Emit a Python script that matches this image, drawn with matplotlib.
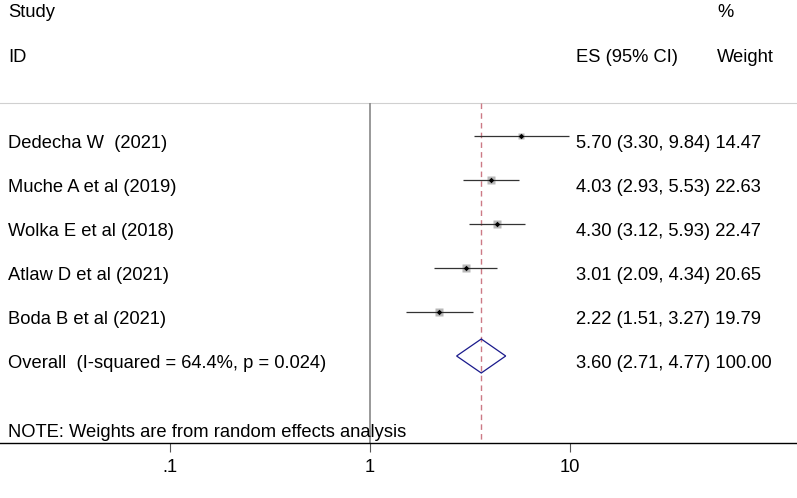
import numpy as np
import matplotlib
matplotlib.use("Agg")
import matplotlib.pyplot as plt
from matplotlib.patches import Polygon
from matplotlib.transforms import blended_transform_factory

plt.rcParams['font.family'] = ['Liberation Sans', 'DejaVu Sans']
plt.rcParams['font.size'] = 13.2

# study data
studies = ["Dedecha W  (2021)", "Muche A et al (2019)", "Wolka E et al (2018)",
           "Atlaw D et al (2021)", "Boda B et al (2021)"]
es = [5.70, 4.03, 4.30, 3.01, 2.22]
lo = [3.30, 2.93, 3.12, 2.09, 1.51]
hi = [9.84, 5.53, 5.93, 4.34, 3.27]
weights = [14.47, 22.63, 22.47, 20.65, 19.79]

overall_label = "Overall  (I-squared = 64.4%, p = 0.024)"
overall_es, overall_lo, overall_hi = 3.60, 2.71, 4.77
overall_weight = 100.00

tick_vals = [0.1, 1, 10]
tick_labels = [".1", "1", "10"]

W, H = 797, 498
fig = plt.figure(figsize=(W / 100, H / 100), dpi=100)
axis_y = 443
ax = fig.add_axes([0, (H - axis_y) / H, 1, axis_y / H])
ax.set_xscale("log")
# 1 sits at x=370 px, 200 px per decade
ax.set_xlim(10 ** (-370 / 200), 10 ** ((W - 370) / 200))
ax.set_ylim(axis_y, 0)  # y in pixels from top

for s in ["top", "right", "left"]:
    ax.spines[s].set_visible(False)
ax.spines["bottom"].set_linewidth(1.0)
ax.set_yticks([])
ax.set_xticks(tick_vals)
ax.set_xticklabels(tick_labels)
ax.xaxis.set_minor_locator(matplotlib.ticker.NullLocator())
ax.tick_params(axis="x", length=6.5, width=0.8, color="#555555", pad=5, labelsize=13.2)

# fixed x positions for text columns, in axes fraction
tr = blended_transform_factory(ax.transAxes, ax.transData)
col_label = 8 / W
col_es = 576 / W
col_w = 717 / W

top_line = 103
ax.axhline(top_line, color="#d0d0d0", lw=0.8)
ax.vlines(1, top_line, axis_y, color="#888888", lw=1.2)
ax.vlines(overall_es, top_line, axis_y, color="#cc7a85", lw=1.0,
          linestyles=(0, (4, 3)))

row0, step, text_off = 136, 44, 7
for i, name in enumerate(studies):
    y = row0 + step * i
    side = 1.6 * np.sqrt(weights[i])
    ax.plot(es[i], y, marker="s", ms=side * 0.72, color="#b8b8b8", mec="none", zorder=2)
    ax.hlines(y, lo[i], hi[i], color="#333333", lw=0.9, zorder=3)
    ax.plot(es[i], y, marker="D", ms=2.8, color="black", mec="none", zorder=4)
    ax.text(col_label, y + text_off, name, transform=tr, va="center", ha="left")
    ax.text(col_es, y + text_off,
            "%.2f (%.2f, %.2f) %.2f" % (es[i], lo[i], hi[i], weights[i]),
            transform=tr, va="center", ha="left")

yo = row0 + step * len(studies)
dh = 17
diamond = Polygon([(overall_lo, yo), (overall_es, yo - dh), (overall_hi, yo),
                   (overall_es, yo + dh)], closed=True, fill=False,
                  edgecolor="#1a1a8c", lw=0.9, zorder=4)
ax.add_patch(diamond)
ax.text(col_label, yo + text_off, overall_label, transform=tr, va="center", ha="left")
ax.text(col_es, yo + text_off,
        "%.2f (%.2f, %.2f) %.2f" % (overall_es, overall_lo, overall_hi, overall_weight),
        transform=tr, va="center", ha="left")

# headers
ax.text(col_label, 12, "Study", transform=tr, va="center", ha="left")
ax.text(col_label, 57, "ID", transform=tr, va="center", ha="left")
ax.text(col_w, 12, "%", transform=tr, va="center", ha="left")
ax.text(col_es, 57, "ES (95% CI)", transform=tr, va="center", ha="left")
ax.text(col_w, 57, "Weight", transform=tr, va="center", ha="left")
ax.text(col_label, 432, "NOTE: Weights are from random effects analysis",
        transform=tr, va="center", ha="left")

fig.savefig("out.png", dpi=100)
